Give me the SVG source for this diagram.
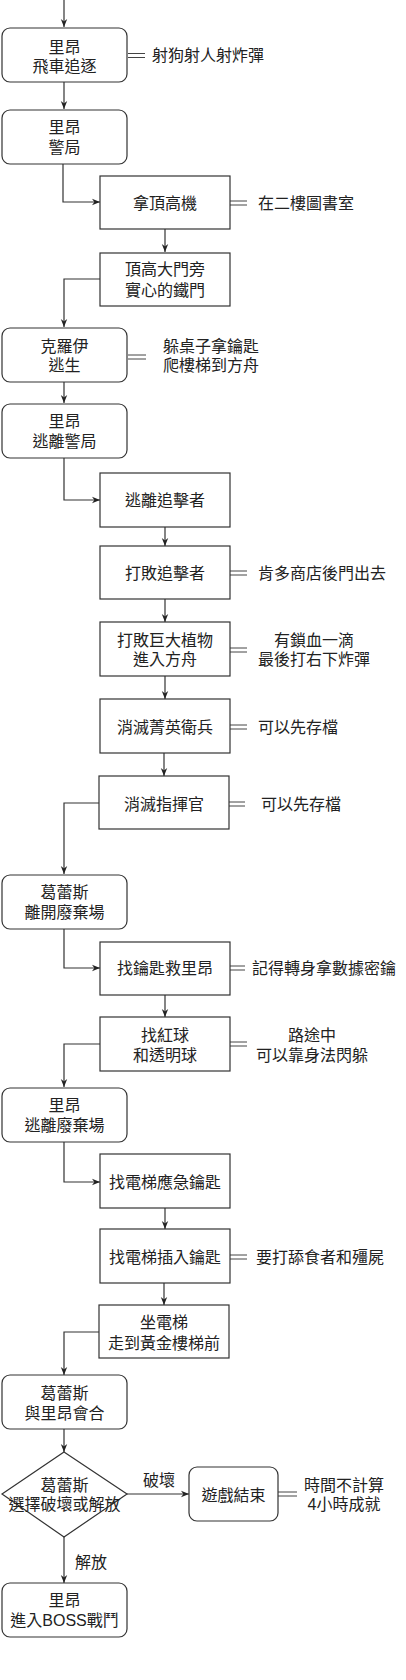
<svg xmlns="http://www.w3.org/2000/svg" width="406" height="1680" viewBox="0 0 406 1680">
<defs>
<style>
.bx{fill:#fff;stroke:#333;stroke-width:1.2}
.e{fill:none;stroke:#333;stroke-width:1.2}
.lk{fill:none;stroke:#444;stroke-width:1}
text{font-family:"Liberation Sans","Noto Sans CJK TC",sans-serif;font-size:16px;fill:#222}
.c{text-anchor:middle}
</style>
<marker id="ar" viewBox="0 0 10 10" refX="10" refY="5" markerWidth="8" markerHeight="8" markerUnits="userSpaceOnUse" orient="auto">
<path d="M0,1 L10,5 L0,9 L3,5 z" fill="#222"/>
</marker>
</defs>
<rect width="406" height="1680" fill="#fff"/>

<g id="connectors">
<path class="e" d="M64,0 V27" marker-end="url(#ar)"/>
<path class="e" d="M64,82 V109" marker-end="url(#ar)"/>
<path class="e" d="M63,164 V202 H100" marker-end="url(#ar)"/>
<path class="e" d="M165,229 V252" marker-end="url(#ar)"/>
<path class="e" d="M100,279 H64 V327" marker-end="url(#ar)"/>
<path class="e" d="M64,382 V403" marker-end="url(#ar)"/>
<path class="e" d="M64,458 V500 H100" marker-end="url(#ar)"/>
<path class="e" d="M165,527 V546" marker-end="url(#ar)"/>
<path class="e" d="M165,599 V622" marker-end="url(#ar)"/>
<path class="e" d="M165,676 V699" marker-end="url(#ar)"/>
<path class="e" d="M164,753 V776" marker-end="url(#ar)"/>
<path class="e" d="M99,803 H64 V874" marker-end="url(#ar)"/>
<path class="e" d="M64,929 V968 H100" marker-end="url(#ar)"/>
<path class="e" d="M165,995 V1017" marker-end="url(#ar)"/>
<path class="e" d="M100,1044 H64 V1087" marker-end="url(#ar)"/>
<path class="e" d="M64,1142 V1182 H100" marker-end="url(#ar)"/>
<path class="e" d="M165,1208 V1229" marker-end="url(#ar)"/>
<path class="e" d="M164,1283 V1305" marker-end="url(#ar)"/>
<path class="e" d="M99,1332 H64 V1375" marker-end="url(#ar)"/>
<path class="e" d="M64,1429 V1452" marker-end="url(#ar)"/>
<path class="e" d="M127,1494 H189" marker-end="url(#ar)"/>
<path class="e" d="M64,1537 V1583" marker-end="url(#ar)"/>
<text class="c" x="159" y="1486">破壞</text>
<text class="c" x="91" y="1568">解放</text>
<!-- link (double line) connectors -->
<path class="lk" d="M128,53.5 H145 M128,57.5 H145"/>
<path class="lk" d="M230,201 H247 M230,205 H247"/>
<path class="lk" d="M128,355 H146 M128,359 H146"/>
<path class="lk" d="M230,571 H247 M230,575 H247"/>
<path class="lk" d="M230,648 H247 M230,652 H247"/>
<path class="lk" d="M230,725 H247 M230,729 H247"/>
<path class="lk" d="M228,802 H245 M228,806 H245"/>
<path class="lk" d="M228,966 H245 M228,970 H245"/>
<path class="lk" d="M230,1042 H247 M230,1046 H247"/>
<path class="lk" d="M230,1255 H247 M230,1259 H247"/>
<path class="lk" d="M278,1492 H297 M278,1496 H297"/>
</g>

<g id="n1"><rect class="bx" x="2" y="28" width="125" height="54" rx="8"/><text class="c" x="64.5" y="53">里昂</text><text class="c" x="64.5" y="72">飛車追逐</text></g>
<g id="a1"><text x="152" y="61">射狗射人射炸彈</text></g>

<g id="n2"><rect class="bx" x="2" y="110" width="125" height="54" rx="8"/><text class="c" x="64.5" y="133">里昂</text><text class="c" x="64.5" y="153">警局</text></g>

<g id="n3"><rect class="bx" x="100" y="176" width="130" height="53"/><text class="c" x="165" y="209">拿頂高機</text></g>
<g id="a3"><text x="258" y="209">在二樓圖書室</text></g>

<g id="n4"><rect class="bx" x="100" y="253" width="130" height="53"/><text class="c" x="165" y="275">頂高大門旁</text><text class="c" x="165" y="296">實心的鐵門</text></g>

<g id="n5"><rect class="bx" x="2" y="328" width="125" height="54" rx="8"/><text class="c" x="64.5" y="352">克羅伊</text><text class="c" x="64.5" y="371">逃生</text></g>
<g id="a5"><text class="c" x="211" y="352">躲桌子拿鑰匙</text><text class="c" x="211" y="371">爬樓梯到方舟</text></g>

<g id="n6"><rect class="bx" x="2" y="404" width="125" height="54" rx="8"/><text class="c" x="64.5" y="427">里昂</text><text class="c" x="64.5" y="447">逃離警局</text></g>

<g id="n7"><rect class="bx" x="100" y="473" width="130" height="54"/><text class="c" x="165" y="506">逃離追擊者</text></g>

<g id="n8"><rect class="bx" x="100" y="546" width="130" height="53"/><text class="c" x="165" y="579">打敗追擊者</text></g>
<g id="a8"><text x="258" y="579">肯多商店後門出去</text></g>

<g id="n9"><rect class="bx" x="100" y="622" width="130" height="54"/><text class="c" x="165" y="646">打敗巨大植物</text><text class="c" x="165" y="665">進入方舟</text></g>
<g id="a9"><text class="c" x="314" y="646">有鎖血一滴</text><text class="c" x="314" y="665">最後打右下炸彈</text></g>

<g id="n10"><rect class="bx" x="100" y="699" width="130" height="54"/><text class="c" x="165" y="733">消滅菁英衛兵</text></g>
<g id="a10"><text x="258" y="733">可以先存檔</text></g>

<g id="n11"><rect class="bx" x="99" y="776" width="130" height="53"/><text class="c" x="164" y="810">消滅指揮官</text></g>
<g id="a11"><text x="261" y="810">可以先存檔</text></g>

<g id="n12"><rect class="bx" x="2" y="875" width="125" height="54" rx="8"/><text class="c" x="64.5" y="898">葛蕾斯</text><text class="c" x="64.5" y="918">離開廢棄場</text></g>

<g id="n13"><rect class="bx" x="100" y="942" width="130" height="53"/><text class="c" x="165" y="974">找鑰匙救里昂</text></g>
<g id="a13"><text x="252" y="974">記得轉身拿數據密鑰</text></g>

<g id="n14"><rect class="bx" x="100" y="1017" width="130" height="54"/><text class="c" x="165" y="1041">找紅球</text><text class="c" x="165" y="1061">和透明球</text></g>
<g id="a14"><text class="c" x="312" y="1041">路途中</text><text class="c" x="312" y="1061">可以靠身法閃躲</text></g>

<g id="n15"><rect class="bx" x="2" y="1088" width="125" height="54" rx="8"/><text class="c" x="64.5" y="1111">里昂</text><text class="c" x="64.5" y="1131">逃離廢棄場</text></g>

<g id="n16"><rect class="bx" x="100" y="1154" width="130" height="54"/><text class="c" x="165" y="1188">找電梯應急鑰匙</text></g>

<g id="n17"><rect class="bx" x="100" y="1229" width="130" height="54"/><text class="c" x="165" y="1263">找電梯插入鑰匙</text></g>
<g id="a17"><text x="256" y="1263">要打舔食者和殭屍</text></g>

<g id="n18"><rect class="bx" x="99" y="1305" width="130" height="53"/><text class="c" x="164" y="1328">坐電梯</text><text class="c" x="164" y="1349">走到黃金樓梯前</text></g>

<g id="n19"><rect class="bx" x="2" y="1375" width="125" height="54" rx="8"/><text class="c" x="64.5" y="1399">葛蕾斯</text><text class="c" x="64.5" y="1419">與里昂會合</text></g>

<g id="d1"><path class="bx" d="M64,1452 L127,1494 L64,1537 L2,1494 Z"/><text class="c" x="64.5" y="1491">葛蕾斯</text><text class="c" x="64.5" y="1510">選擇破壞或解放</text></g>

<g id="n20"><rect class="bx" x="189" y="1467" width="89" height="54" rx="8"/><text class="c" x="233.5" y="1501">遊戲結束</text></g>
<g id="a20"><text class="c" x="344" y="1491">時間不計算</text><text class="c" x="344" y="1510">4小時成就</text></g>

<g id="n21"><rect class="bx" x="2" y="1583" width="125" height="54" rx="8"/><text class="c" x="64.5" y="1606">里昂</text><text class="c" x="64.5" y="1626">進入BOSS戰鬥</text></g>
</svg>
